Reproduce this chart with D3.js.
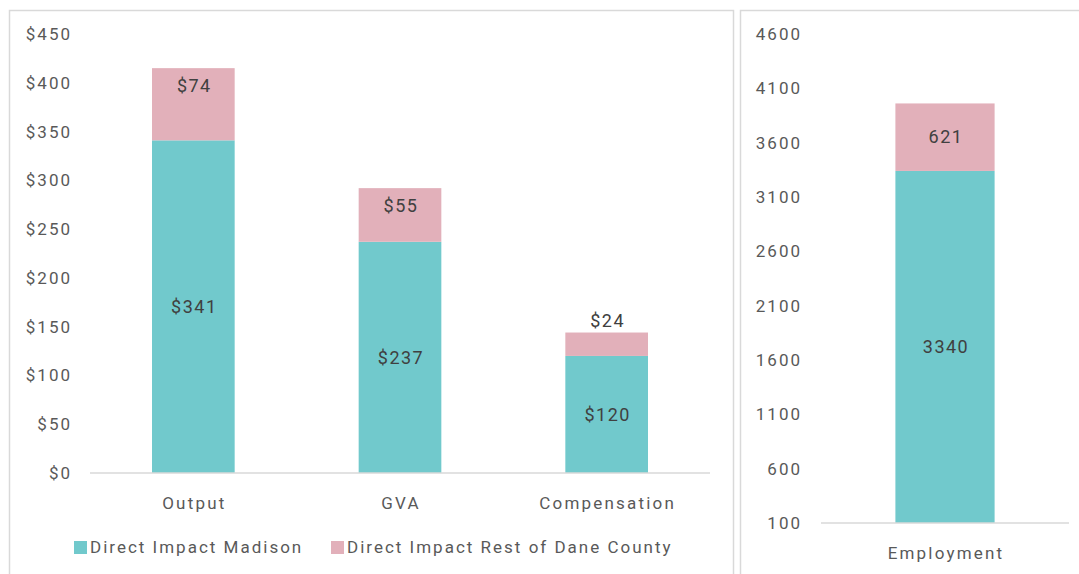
<!DOCTYPE html>
<html>
<head>
<meta charset="utf-8">
<script src="https://cdn.jsdelivr.net/npm/d3@7"></script>
<style>
  body { margin: 0; background: #fff; }
  text { font-family: "Roboto", "DejaVu Sans Condensed", sans-serif; }
</style>
</head>
<body>
<svg id="chart" width="1079" height="574"></svg>
<script>
// data
var dollarCategories = ["Output", "GVA", "Compensation"];
var madisonDollars = [341, 237, 120];
var restDollars = [74, 55, 24];
var dollarTicks = [0, 50, 100, 150, 200, 250, 300, 350, 400, 450];

var jobCategories = ["Employment"];
var madisonJobs = [3340];
var restJobs = [621];
var jobTicks = [100, 600, 1100, 1600, 2100, 2600, 3100, 3600, 4100, 4600];

var seriesNames = ["Direct Impact Madison", "Direct Impact Rest of Dane County"];
var teal = "#71c9cc";
var pink = "#e2b0ba";

var svg = d3.select("#chart");

// panel borders
svg.append("rect").attr("x", 9.5).attr("y", 10.5).attr("width", 724).attr("height", 580)
  .attr("fill", "none").attr("stroke", "#d9d9d9").attr("stroke-width", 1.5);
svg.append("rect").attr("x", 740.5).attr("y", 10.5).attr("width", 360).attr("height", 580)
  .attr("fill", "none").attr("stroke", "#d9d9d9").attr("stroke-width", 1.5);

//left chart scales
var xLeft = d3.scaleBand().domain(dollarCategories).range([90, 710]).paddingInner(0.6).paddingOuter(0.3);
var yLeft = d3.scaleLinear().domain([0, 450]).range([473, 34]);

//right chart scales
var xRight = d3.scaleBand().domain(jobCategories).range([821, 1069]).paddingInner(0).paddingOuter(0.75);
var yRight = d3.scaleLinear().domain([100, 4600]).range([523, 34]);

function drawPanel(g, cats, base, top, x, y, ticks, fmt, labelX, bottomVal, smallAbove) {
  // y tick labels (no axis line)
  g.selectAll(".ytick").data(ticks).enter().append("text")
    .attr("x", labelX).attr("y", d => y(d)).attr("dy", "0.35em")
    .attr("text-anchor", "end").attr("fill", "#595959").style("font-size", "17px")
    .style("letter-spacing", "2px")
    .text(fmt);

  // stacked bars
  cats.forEach(function(c, i) {
    var b = base[i], t = top[i];
    g.append("rect").attr("x", x(c)).attr("width", x.bandwidth())
      .attr("y", y(b)).attr("height", y(bottomVal) - y(b)).attr("fill", teal);
    g.append("rect").attr("x", x(c)).attr("width", x.bandwidth())
      .attr("y", y(b + t)).attr("height", y(b) - y(b + t)).attr("fill", pink);

    g.append("text").attr("x", x(c) + x.bandwidth() / 2 + 1).attr("y", (y(bottomVal) + y(b)) / 2)
      .attr("dy", "0.35em").attr("text-anchor", "middle").attr("fill", "#404040")
      .style("font-size", "18px").style("letter-spacing", "1.5px").text(fmt(b));

    var segH = y(b) - y(b + t);
    var ly = segH < 30 ? y(b + t) - 12 : (smallAbove ? y(b + t) + 18 : (y(b) + y(b + t)) / 2);
    g.append("text").attr("x", x(c) + x.bandwidth() / 2 + 1).attr("y", ly)
      .attr("dy", "0.35em").attr("text-anchor", "middle").attr("fill", "#404040")
      .style("font-size", "18px").style("letter-spacing", "1.5px").text(fmt(t));
  });

  // baseline
  var r = x.range();
  g.append("line").attr("x1", r[0]).attr("x2", r[1]).attr("y1", y(bottomVal)).attr("y2", y(bottomVal))
    .attr("stroke", "#d9d9d9").attr("stroke-width", 1.5);

  // category labels
  g.selectAll(".cat").data(cats).enter().append("text")
    .attr("x", d => x(d) + x.bandwidth() / 2 + 1).attr("y", y(bottomVal) + 30)
    .attr("dy", "0.35em").attr("text-anchor", "middle").attr("fill", "#595959")
    .style("font-size", "17px").style("letter-spacing", "2.2px").text(d => d);
}

var left = svg.append("g");
drawPanel(left, dollarCategories, madisonDollars, restDollars, xLeft, yLeft, dollarTicks,
  d => "$" + d, 72, 0, true);

var right = svg.append("g");
drawPanel(right, jobCategories, madisonJobs, restJobs, xRight, yRight, jobTicks,
  d => String(d), 802, 100, false);

//legend
var legendX = [74, 331];
var legend = svg.append("g");
seriesNames.forEach(function(s, i) {
  legend.append("rect").attr("x", legendX[i]).attr("y", 541).attr("width", 13).attr("height", 13)
    .attr("fill", i === 0 ? teal : pink);
  legend.append("text").attr("x", legendX[i] + 16).attr("y", 547).attr("dy", "0.35em")
    .attr("fill", "#595959").style("font-size", "17px").style("letter-spacing", "2px").text(s);
});
</script>
</body>
</html>
